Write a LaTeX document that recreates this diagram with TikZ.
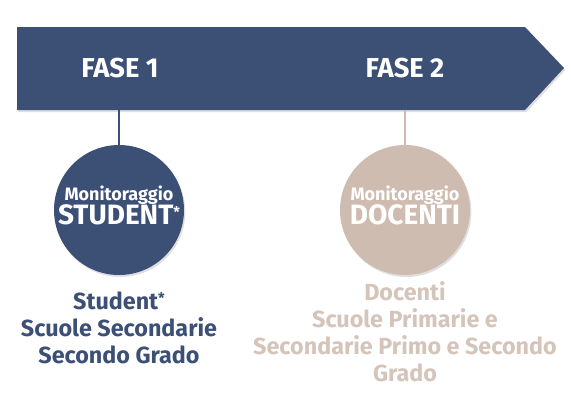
\documentclass[tikz,border=0pt]{standalone}
\usepackage{fontspec}
\setmainfont{Fira Sans}
\usetikzlibrary{positioning,shadows}
\definecolor{navy}{RGB}{60,79,117}
\definecolor{sand}{RGB}{206,188,176}
\definecolor{sandtext}{RGB}{212,196,185}
\tikzset{
     fase node/.style={font=\bfseries\fontsize{20.5}{24}\selectfont, text=white},
     bubble/.style={circle, minimum size=130*0.75pt, inner sep=0pt, align=center, text=white,
                    drop shadow={opacity=0.25, shadow xshift=1pt, shadow yshift=-1.5pt}},
     bubble text/.style={align=center, text=white},
     caption/.style={align=center, font=\bfseries\fontsize{17.5}{20.3}\selectfont},
     stem/.style={line width=1.3pt},
    }
\newcommand{\bubtxt}[2]{{\fontsize{13.5}{14}\selectfont #1}\\[-1pt]{\fontsize{21}{22}\selectfont #2}}
\newcommand{\smallstar}{\raisebox{0.25em}{\fontsize{11}{11}\selectfont*}}

\begin{document}
\begin{tikzpicture}[x=0.75pt,y=-0.75pt,font=\bfseries]
      \useasboundingbox (0,0) rectangle (571,393);
      % timeline arrow
      \fill[navy, drop shadow={opacity=0.25, shadow xshift=1pt, shadow yshift=-1.5pt}]
            (17,27) -- (525,27) -- (564,68) -- (525,110) -- (17,110) -- cycle;

      \node [fase node] (fase1) at (120,68) {FASE 1};
      \node [fase node] (fase2) at (405,68) {FASE 2};

      \coordinate (f1) at (119,110);
      \coordinate (f2) at (405,110);

      \node [bubble, fill=navy] (mon1) at (119,210) {};
      \node [bubble, fill=sand] (mon2) at (405,210) {};
      \node [bubble text] (lab1) at (119,205) {\bubtxt{Monitoraggio}{STUDENT\smallstar}};
      \node [bubble text] (lab2) at (405,205) {\bubtxt{Monitoraggio}{DOCENTI}};

      \draw [stem, navy] (f1) -- (mon1);
      \draw [stem, sand] (f2) -- (mon2);

      \node [caption, text=navy, anchor=north] (cap1) at (119,287)
            {Student\smallstar\\Scuole Secondarie\\Secondo Grado};
      \node [caption, text=sandtext, anchor=north] (cap2) at (405,277)
            {Docenti\\Scuole Primarie e\\Secondarie Primo e Secondo\\Grado};
\end{tikzpicture}
\end{document}
